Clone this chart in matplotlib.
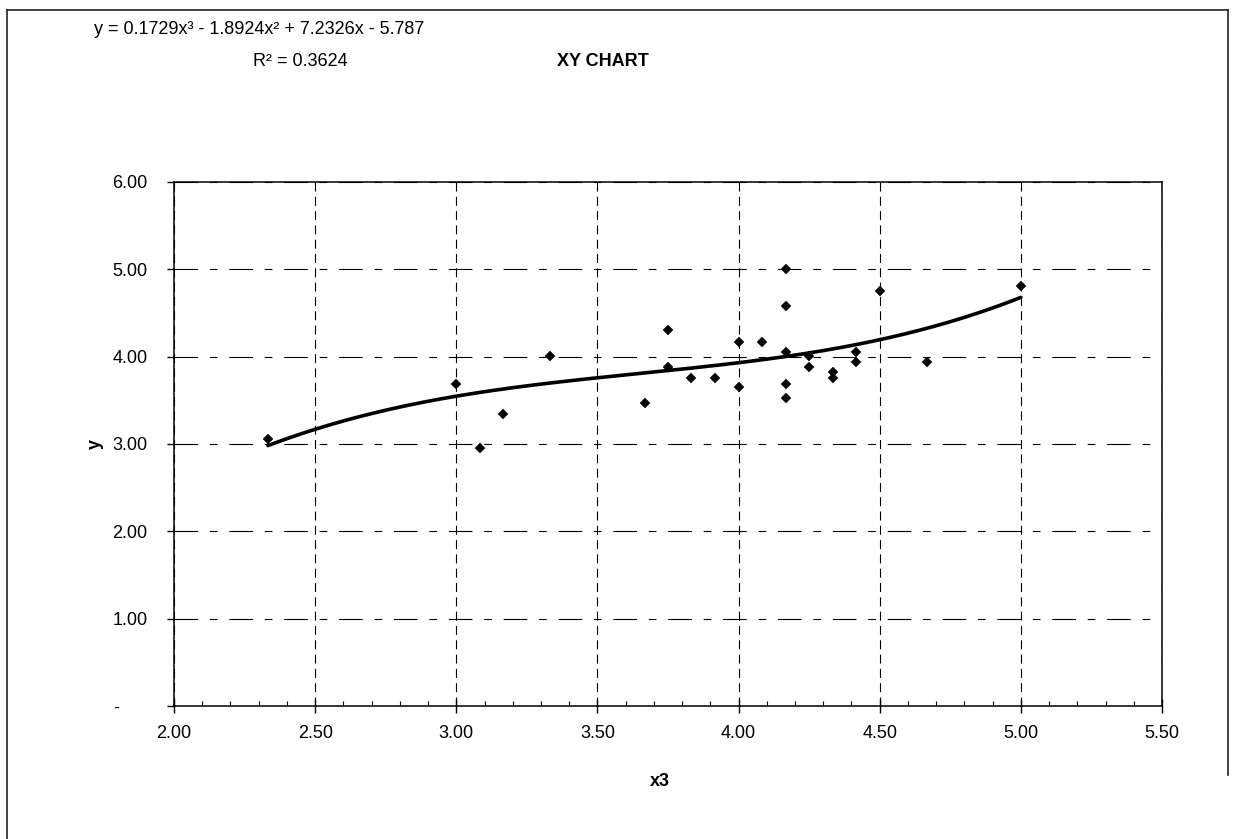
import numpy as np
import matplotlib
matplotlib.use("Agg")
import matplotlib.pyplot as plt
from matplotlib.lines import Line2D
from matplotlib.transforms import ScaledTranslation

plt.rcParams['font.family'] = ['Liberation Sans', 'DejaVu Sans']
plt.rcParams['lines.scale_dashes'] = False

# ---- data ----
x3 = [2.333, 3.000, 3.083, 3.167, 3.333, 3.667, 3.750, 3.750, 3.833, 3.917,
      4.000, 4.000, 4.083, 4.167, 4.167, 4.167, 4.167, 4.167, 4.250, 4.250,
      4.333, 4.333, 4.417, 4.417, 4.500, 4.667, 5.000]
y = [3.06, 3.69, 2.95, 3.34, 4.01, 3.47, 4.30, 3.88, 3.76, 3.76,
     4.17, 3.65, 4.17, 5.00, 4.58, 4.05, 3.69, 3.53, 4.01, 3.88,
     3.82, 3.76, 4.05, 3.94, 4.75, 3.94, 4.81]
coef = [0.1729, -1.8924, 7.2326, -5.787]   # displayed trendline (cubic)
r2 = 0.3624

xticks = [2.0, 2.5, 3.0, 3.5, 4.0, 4.5, 5.0, 5.5]
xticklabels = ['2.00', '2.50', '3.00', '3.50', '4.00', '4.50', '5.00', '5.50']
yticks = [0, 1, 2, 3, 4, 5, 6]
yticklabels = ['-', '1.00', '2.00', '3.00', '4.00', '5.00', '6.00']

W, H = 1234, 839
fig = plt.figure(figsize=(W / 100, H / 100), dpi=100)
ax = fig.add_axes([174 / W, 1 - 706 / H, (1162 - 174) / W, (706 - 182) / H])

ax.set_xlim(2.0, 5.5)
ax.set_ylim(0, 6)

# grid
ax.set_xticks(xticks)
ax.set_xticks(np.arange(2.0, 5.5001, 0.1), minor=True)
ax.set_yticks(yticks)
ax.set_xticklabels(xticklabels)
ax.set_yticklabels(yticklabels)
ax.xaxis.grid(True, which='major', color='black', linewidth=0.8,
              linestyle=(0, (6.5, 3.8)))
ax.yaxis.grid(True, which='major', color='black', linewidth=0.8,
              linestyle=(0, (17, 8.5, 5.5, 8.5)))
ax.set_axisbelow(True)

for s in ax.spines.values():
    s.set_color('black')
    s.set_linewidth(1.1)

ax.tick_params(axis='x', which='major', direction='inout', length=10, width=1,
               pad=9, labelsize=13, top=False)
ax.tick_params(axis='x', which='minor', direction='in', length=3.6, width=0.8,
               top=False)
ax.tick_params(axis='y', which='major', direction='out', length=5, width=1,
               pad=14, labelsize=13, right=False)

# shift the "-" label left (accounting-style format padding)
lbl0 = ax.yaxis.get_major_ticks()[0].label1
lbl0.set_transform(lbl0.get_transform() +
                   ScaledTranslation(-28 / 100, 0, fig.dpi_scale_trans))

# trendline
xs = np.linspace(min(x3), max(x3), 200)
ax.plot(xs, np.polyval(coef, xs), color='black', linewidth=2.6,
        solid_capstyle='round', zorder=3)

# points
ax.plot(x3, y, linestyle='none', marker='D', markersize=5.2,
        markerfacecolor='black', markeredgecolor='black', markeredgewidth=0.3,
        zorder=4)

# texts
fig.text(95 / W, 1 - 444 / H, 'y', rotation=90, ha='center', va='center',
         fontsize=13, fontweight='bold')
fig.text(660 / W, 1 - 782 / H, 'x3', ha='center', va='center',
         fontsize=13, fontweight='bold')
fig.text(259 / W, 1 - 30 / H,
         'y = %.4fx³ - %.4fx² + %.4fx - %.3f' % (coef[0], -coef[1], coef[2], -coef[3]),
         ha='center', va='center', fontsize=13)
fig.text(300 / W, 1 - 62 / H, 'R² = %.4f' % r2, ha='center', va='center',
         fontsize=13)
fig.text(603 / W, 1 - 62 / H, 'XY CHART', ha='center', va='center',
         fontsize=13, fontweight='bold')

# chart-area border
bx0, bx1, by0 = 6.5 / W, 1228 / W, 1 - 10 / H
fig.add_artist(Line2D([bx0, bx0], [0, by0], transform=fig.transFigure,
                      color='#222222', linewidth=1.2))
fig.add_artist(Line2D([bx0, bx1], [by0, by0], transform=fig.transFigure,
                      color='#222222', linewidth=1.2))
fig.add_artist(Line2D([bx1, bx1], [by0, 1 - 775 / H], transform=fig.transFigure,
                      color='#222222', linewidth=1.2))

fig.savefig('out.png', dpi=100)
